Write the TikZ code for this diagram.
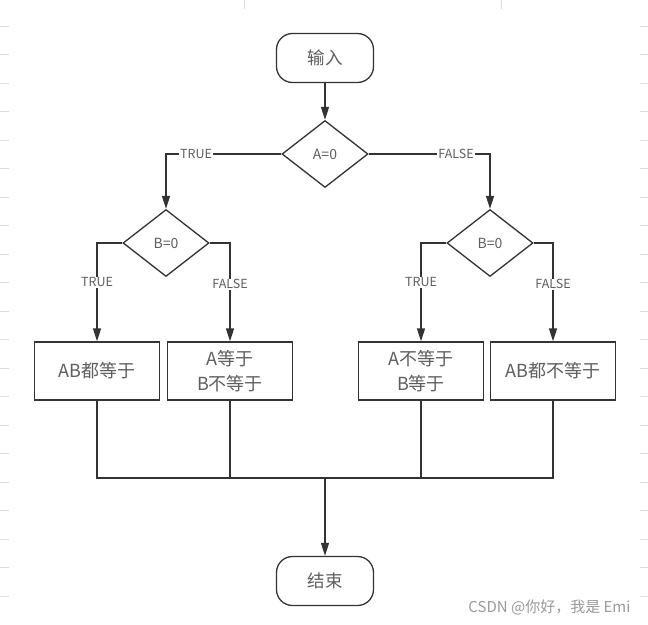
\documentclass[tikz,border=0pt]{standalone}
\usepackage{fontspec}
\setmainfont{Noto Sans CJK SC}
\usetikzlibrary{shapes.geometric}
\usetikzlibrary{arrows.meta}

\definecolor{linecol}{HTML}{333333}
\definecolor{textcol}{HTML}{5E5E5E}
\definecolor{tickcol}{HTML}{DDDDDD}
\definecolor{markcol}{HTML}{9A9A9A}

\tikzset{
  terminal/.style={draw=linecol, line width=1.3pt, rounded corners=16pt,
    minimum width=97pt, minimum height=49pt, text=textcol,
    font=\fontsize{17.5}{20}\selectfont},
  decision/.style={draw=linecol, line width=1.3pt, diamond, inner sep=0pt,
    minimum width=86pt, minimum height=67pt, text=textcol,
    font=\fontsize{14}{16}\selectfont},
  process/.style={draw=linecol, line width=1.3pt, minimum width=125pt,
    minimum height=58pt, align=center, text=textcol,
    font=\fontsize{18}{25}\selectfont},
  branch/.style={fill=white, inner sep=1pt, text=textcol,
    font=\fontsize{12.5}{14}\selectfont},
  link/.style={draw=linecol, line width=1.3pt},
  flow/.style={link, -{Triangle[length=13pt,width=8pt]}},
}

\begin{document}
\begin{tikzpicture}[x=1pt,y=-1pt]
\useasboundingbox[fill=white] (0,0) rectangle (648,624);

% page ticks of the editor background
\foreach \i in {0,...,20}{
  \draw[tickcol, line width=1pt] (0,26+28.5*\i) -- (9,26+28.5*\i);
  \draw[tickcol, line width=1pt] (640,26+28.5*\i) -- (648,26+28.5*\i);
}
\draw[tickcol, line width=1pt] (244,0) -- (244,9);
\draw[tickcol, line width=1pt] (501,0) -- (501,9);

% nodes
\node[terminal] (in) at (325,58) {输入};
\node[decision] (A) at (325,154) {A=0};
\node[decision] (B1) at (166,243) {B=0};
\node[decision] (B2) at (490,243) {B=0};

\node[process] (P1) at (97,371) {AB都等于};
\node[process] (P2) at (230,371) {A等于\\B不等于};
\node[process] (P3) at (421,371) {A不等于\\B等于};
\node[process] (P4) at (553,371) {AB都不等于};

\node[terminal] (out) at (325,581) {结束};
\coordinate (join) at (325,478);

% connectors
\draw[flow] (in) -- (A);
\draw[flow] (A.west) -| node[branch, pos=0.37] {TRUE} (B1.north);
\draw[flow] (A.east) -| node[branch, pos=0.36] {FALSE} (B2.north);

\draw[flow] (B1.west) -| node[branch, pos=0.70] {TRUE} (P1.north);
\draw[flow] (B1.east) -| node[branch, pos=0.71] {FALSE} (P2.north);
\draw[flow] (B2.west) -| node[branch, pos=0.70] {TRUE} (P3.north);
\draw[flow] (B2.east) -| node[branch, pos=0.71] {FALSE} (P4.north);

% merge into the end
\draw[link] (P1.south) -- (P1.south |- join) -- (P4.south |- join) -- (P4.south);
\draw[link] (P2.south) -- (P2.south |- join);
\draw[link] (P3.south) -- (P3.south |- join);
\draw[flow] (join) -- (out);

% watermark
\node[text=markcol, font=\fontsize{15}{17}\selectfont, anchor=east] (mark) at (634,607) {CSDN @你好，我是 Emi};
\end{tikzpicture}
\end{document}
